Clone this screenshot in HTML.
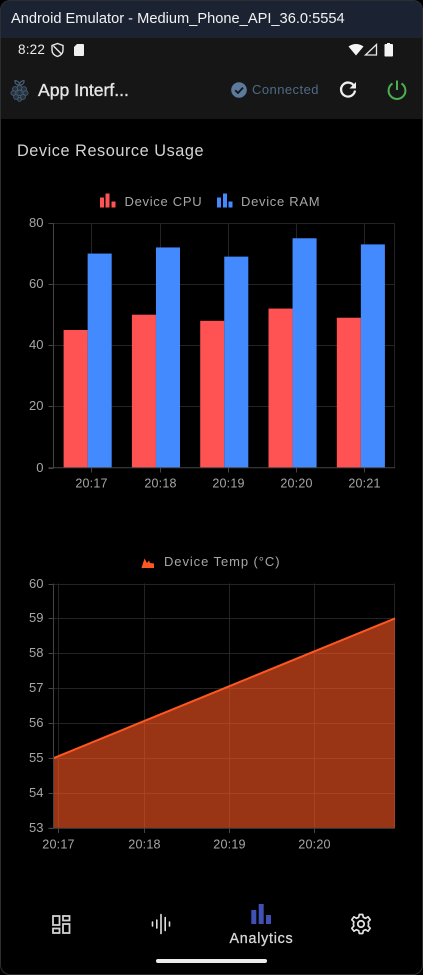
<!DOCTYPE html>
<html lang="en">
<head>
<meta charset="utf-8">
<title>Device Resource Usage</title>
<style>
html,body{margin:0;padding:0;background:#000;}
body{width:423px;height:975px;position:relative;overflow:hidden;font-family:"Liberation Sans","DejaVu Sans",sans-serif;}
.abs{position:absolute;white-space:nowrap;}
svg{position:absolute;display:block;}
svg text{font-family:"Liberation Sans","DejaVu Sans",sans-serif;}
</style>
</head>
<body>
<div class="abs" style="left:0;top:0;width:421px;height:973px;border:1px solid #2b2e33;border-radius:10px;z-index:5;pointer-events:none;"></div>
<div class="abs" style="left:0;top:0;width:423px;height:38px;background:#1b2231;border-radius:10px 10px 0 0;"></div>
<div class="abs" style="left:11px;top:11px;font-size:14.65px;line-height:17px;color:#f2f2f2;">Android Emulator - Medium_Phone_API_36.0:5554</div>
<div class="abs" style="left:0;top:38px;width:423px;height:81px;background:#161616;"></div>
<div class="abs" style="left:18px;top:42px;font-size:13.5px;line-height:16px;letter-spacing:.2px;color:#ececec;">8:22</div>

<svg style="left:50px;top:42px" width="15" height="16" viewBox="0 0 15 16">
<path d="M7.5 1.5 L13 3.5 V8 C13 11.5 10.5 13.5 7.5 14.5 C4.5 13.5 2 11.5 2 8 V3.5 Z M3.5 4 L11.5 12" fill="none" stroke="#e8e8e8" stroke-width="1.4"/>
</svg>
<svg style="left:73px;top:43px" width="12" height="14" viewBox="0 0 12 14">
<path d="M4 1 H10 Q11 1 11 2 V12 Q11 13 10 13 H2 Q1 13 1 12 V4 Z" fill="#f0f0f0"/>
</svg>
<svg style="left:348px;top:43px" width="16" height="13" viewBox="0 0 16 13">
<path d="M0.5 3.5 Q8 -1.5 15.5 3.5 L8 12.5 Z" fill="#f5f5f5"/>
</svg>
<svg style="left:364px;top:43px" width="14" height="13" viewBox="0 0 14 13">
<path d="M1.5 12 L12.5 1.5 V12 Z" fill="none" stroke="#e8e8e8" stroke-width="1.3"/>
</svg>
<svg style="left:384px;top:42px" width="9" height="15" viewBox="0 0 9 15">
<path d="M3 1 H6 V2 H8 Q9 2 9 3 V13.5 Q9 14.5 8 14.5 H1 Q0.5 14.5 0.5 13.5 V3 Q0.5 2 1.5 2 H3 Z" fill="#f5f5f5"/>
</svg>

<svg style="left:10px;top:79px" width="19" height="23" viewBox="0 0 19 23">
<path d="M5 1.5 Q8.5 2 9.5 5 Q10.5 2 14 1.5 Q14.5 5 11 6 H8 Q4.5 5 5 1.5 Z" fill="none" stroke="#465d74" stroke-width="1.2"/>
<g fill="#26333f" stroke="#4a6178" stroke-width="0.8">
<circle cx="9.5" cy="9" r="2.6"/><circle cx="5" cy="10" r="2.5"/><circle cx="14" cy="10" r="2.5"/>
<circle cx="3.2" cy="14" r="2.3"/><circle cx="15.8" cy="14" r="2.3"/><circle cx="9.5" cy="14" r="2.8"/>
<circle cx="6" cy="18" r="2.4"/><circle cx="13" cy="18" r="2.4"/><circle cx="9.5" cy="20.5" r="1.9"/>
</g>
</svg>
<div class="abs" style="left:38px;top:80px;font-size:17.6px;line-height:21px;-webkit-text-stroke:.35px #e6e6e6;color:#e6e6e6;">App Interf...</div>
<svg style="left:231px;top:82px" width="16" height="16" viewBox="0 0 16 16">
<circle cx="8" cy="8" r="7.8" fill="#5b7a9c"/>
<path d="M4.2 8.2 L7 11 L12 5.6" fill="none" stroke="#10151b" stroke-width="1.8"/>
</svg>
<div class="abs" style="left:252px;top:82px;font-size:13px;line-height:16px;letter-spacing:.45px;color:#4f6a86;">Connected</div>
<svg style="left:338px;top:80px" width="20" height="20" viewBox="0 0 20 20">
<path d="M16.2 6.2 A7 7 0 1 0 17 10.5" fill="none" stroke="#eeeeee" stroke-width="2.3"/>
<path d="M18 2 V8.5 H11.5 Z" fill="#eeeeee"/>
</svg>
<svg style="left:386px;top:79px" width="22" height="22" viewBox="0 0 22 22">
<path d="M6.5 4.5 A8.4 8.4 0 1 0 15.5 4.5 M11 1.5 V11" fill="none" stroke="#4caf50" stroke-width="2"/>
</svg>

<div class="abs" style="left:17px;top:141px;font-size:16.3px;line-height:20px;letter-spacing:.55px;color:#d4d4d4;">Device Resource Usage</div>

<svg id="bar-chart" style="left:0;top:180px" width="423" height="320"></svg>
<svg id="area-chart" style="left:0;top:545px" width="423" height="320"></svg>

<svg style="left:50px;top:913px" width="22" height="22" viewBox="0 0 22 22">
<g fill="none" stroke="#d2d2d2" stroke-width="1.8">
<rect x="3" y="3" width="6.5" height="9"/><rect x="13" y="3" width="6.5" height="4.5"/>
<rect x="13" y="11" width="6.5" height="9"/><rect x="3" y="15.5" width="6.5" height="4.5"/>
</g>
</svg>
<svg style="left:150px;top:913px" width="22" height="22" viewBox="0 0 22 22">
<g stroke="#dedede" stroke-width="1.6" stroke-linecap="round">
<path d="M2.5 9 V13 M6.8 7 V15 M11 1.5 V20.5 M15.2 4.5 V17.5 M19.5 9 V13"/>
</g>
</svg>
<svg style="left:250px;top:903px" width="22" height="22" viewBox="0 0 22 22">
<g fill="#3f51b5"><rect x="1.3" y="7" width="5" height="14"/><rect x="8.7" y="1" width="5" height="20"/><rect x="16" y="12" width="5" height="9"/></g>
</svg>
<div class="abs" style="left:229.5px;top:930px;font-size:14.3px;line-height:18px;letter-spacing:.75px;-webkit-text-stroke:.3px #d8d8d8;color:#d8d8d8;">Analytics</div>
<svg style="left:350px;top:913px" width="22" height="22" viewBox="0 0 22 22">
<circle cx="11" cy="11" r="3.2" fill="none" stroke="#e2e2e2" stroke-width="1.8"/>
<path d="M9.3 1.5 H12.7 L13.3 4.3 L15.6 5.3 L18 3.8 L20.2 6.8 L18.2 8.8 L18.6 11 L18.2 13.2 L20.2 15.2 L18 18.2 L15.6 16.7 L13.3 17.7 L12.7 20.5 H9.3 L8.7 17.7 L6.4 16.7 L4 18.2 L1.8 15.2 L3.8 13.2 L3.4 11 L3.8 8.8 L1.8 6.8 L4 3.8 L6.4 5.3 L8.7 4.3 Z" fill="none" stroke="#e2e2e2" stroke-width="1.7" stroke-linejoin="round"/>
</svg>
<div class="abs" style="left:156px;top:959px;width:111px;height:4px;border-radius:2px;background:#ececec;"></div>

<script>
var barCategories = ["20:17", "20:18", "20:19", "20:20", "20:21"];
var cpuValues = [45, 50, 48, 52, 49];
var ramValues = [70, 72, 69, 75, 73];
var barTicks = [0, 20, 40, 60, 80];
var tempCategories = ["20:17", "20:18", "20:19", "20:20", "20:21"];
var tempValues = [55, 56, 57, 58, 59];
var tempTicks = [53, 54, 55, 56, 57, 58, 59, 60];
var tempTickLabels = ["20:17", "20:18", "20:19", "20:20"];

var NS = "http://www.w3.org/2000/svg";
function make(parent, tag, attrs, text) {
  var el = document.createElementNS(NS, tag);
  for (var k in attrs) el.setAttribute(k, attrs[k]);
  if (text !== undefined) el.textContent = text;
  parent.appendChild(el);
  return el;
}

/* ---------- bar chart ---------- */
(function () {
  var svg = document.getElementById("bar-chart");
  var left = 53.5, right = 395, top = 43, bottom = 287.5;
  var yMax = barTicks[barTicks.length - 1], yMin = barTicks[0];
  var band = (right - left) / barCategories.length;
  var barW = band * 0.352;
  var tickShift = 3.6;
  function y(v) { return bottom - (v - yMin) / (yMax - yMin) * (bottom - top); }
  function cx(i) { return left + band * (i + 0.5); }

  var grid = make(svg, "g", {});
  
  
  barTicks.forEach(function (t) {
    var yy = Math.round(y(t)) + 0.5;
    if (t !== yMin) make(grid, "line", {x1: left, x2: right, y1: yy, y2: yy, stroke: "#242424", "stroke-width": 1});
    make(grid, "line", {x1: left - 5, x2: left, y1: yy, y2: yy, stroke: "#444", "stroke-width": 1});
    var lab = make(svg, "text", {x: 43.5, y: yy + 3.6, "text-anchor": "end", "font-size": 13, fill: "#a6a6a6"}, String(t));
    
    
  });
  barCategories.forEach(function (c, i) {
    var xx = Math.round(cx(i) + tickShift) + 0.5;
    make(grid, "line", {x1: xx, x2: xx, y1: top, y2: bottom, stroke: "#242424", "stroke-width": 1});
    make(grid, "line", {x1: xx, x2: xx, y1: bottom, y2: bottom + 5, stroke: "#444", "stroke-width": 1});
    var lab = make(svg, "text", {x: xx, y: bottom + 20, "text-anchor": "middle", "font-size": 12.5, "letter-spacing": 0.2, fill: "#a6a6a6"}, c);
    
    
  });
  make(grid, "line", {x1: right - 0.5, x2: right - 0.5, y1: top, y2: bottom, stroke: "#242424"});
  make(grid, "line", {x1: left, x2: left, y1: top, y2: bottom, stroke: "#444"});

  barCategories.forEach(function (c, i) {
    var b1 = make(svg, "rect", {x: cx(i) - barW, y: y(cpuValues[i]), width: barW, height: bottom - y(cpuValues[i]), fill: "#ff5252"});
    
    
    var b2 = make(svg, "rect", {x: cx(i), y: y(ramValues[i]), width: barW, height: bottom - y(ramValues[i]), fill: "#448aff"});
    
    
  });
  make(svg, "line", {x1: left - 5, x2: right, y1: bottom + 0.2, y2: bottom + 0.2, stroke: "#444", "stroke-width": 1});

  var lg1 = make(svg, "g", {fill: "#ff5252"});
  
  
  make(lg1, "rect", {x: 100, y: 17.5, width: 4, height: 10});
  make(lg1, "rect", {x: 105.5, y: 13.5, width: 4, height: 14});
  make(lg1, "rect", {x: 111.5, y: 21.5, width: 4, height: 6});
  make(lg1, "text", {x: 124.5, y: 26, "font-size": 13, "letter-spacing": 0.7, fill: "#a6a6a6"}, "Device CPU");
  var lg2 = make(svg, "g", {fill: "#448aff"});
  
  
  make(lg2, "rect", {x: 217, y: 17.5, width: 4, height: 10});
  make(lg2, "rect", {x: 223, y: 13.5, width: 4, height: 14});
  make(lg2, "rect", {x: 228.5, y: 21.5, width: 4, height: 6});
  make(lg2, "text", {x: 241, y: 26, "font-size": 13, "letter-spacing": 0.7, fill: "#a6a6a6"}, "Device RAM");
})();

/* ---------- area chart ---------- */
(function () {
  var svg = document.getElementById("area-chart");
  var left = 53.5, right = 395, top = 38.5, bottom = 283;
  var yMin = tempTicks[0], yMax = tempTicks[tempTicks.length - 1];
  var step = (right - left) / (tempCategories.length - 1);
  var tickShift = 4.8;
  function x(i) { return left + step * i; }
  function y(v) { return bottom - (v - yMin) / (yMax - yMin) * (bottom - top); }

  var grid = make(svg, "g", {});
  
  
  tempTicks.forEach(function (t) {
    var yy = Math.round(y(t)) + 0.5;
    if (t !== yMin) make(grid, "line", {x1: left, x2: right, y1: yy, y2: yy, stroke: "#242424", "stroke-width": 1});
    make(grid, "line", {x1: left - 5, x2: left, y1: yy, y2: yy, stroke: "#444", "stroke-width": 1});
    var lab = make(svg, "text", {x: 43.5, y: yy + 3.5, "text-anchor": "end", "font-size": 13, fill: "#a6a6a6"}, String(t));
    
    
  });
  tempTickLabels.forEach(function (c, i) {
    var xx = Math.round(x(i) + tickShift) + 0.5;
    make(grid, "line", {x1: xx, x2: xx, y1: top, y2: bottom, stroke: "#242424", "stroke-width": 1});
    make(grid, "line", {x1: xx, x2: xx, y1: bottom, y2: bottom + 5, stroke: "#444", "stroke-width": 1});
    var lab = make(svg, "text", {x: xx, y: bottom + 20.5, "text-anchor": "middle", "font-size": 12.6, "letter-spacing": 0.2, fill: "#a6a6a6"}, c);
    
    
  });
  make(grid, "line", {x1: right - 0.5, x2: right - 0.5, y1: top, y2: bottom, stroke: "#242424"});

  var linePts = tempValues.map(function (v, i) { return x(i) + "," + y(v); });
  var area = make(svg, "polygon", {points: left + "," + bottom + " " + linePts.join(" ") + " " + right + "," + bottom, fill: "#ff5722", "fill-opacity": 0.6});
  
  
  var line = make(svg, "polyline", {points: linePts.join(" "), fill: "none", stroke: "#ff5722", "stroke-width": 2});
  
  

  make(svg, "line", {x1: left, x2: left, y1: top, y2: bottom, stroke: "#444"});
  make(svg, "line", {x1: left - 5, x2: right, y1: bottom + 0.2, y2: bottom + 0.2, stroke: "#444", "stroke-width": 1});

  var lg = make(svg, "g", {});
  
  
  make(lg, "path", {d: "M141.5 23 L144.5 13.5 L147 18 L149 15.5 L150 18 L154 18.5 L154 23 Z", fill: "#ff5722"});
  make(lg, "text", {x: 164, y: 21, "font-size": 13, "letter-spacing": 0.92, fill: "#a6a6a6"}, "Device Temp (°C)");
})();
</script>
</body>
</html>
